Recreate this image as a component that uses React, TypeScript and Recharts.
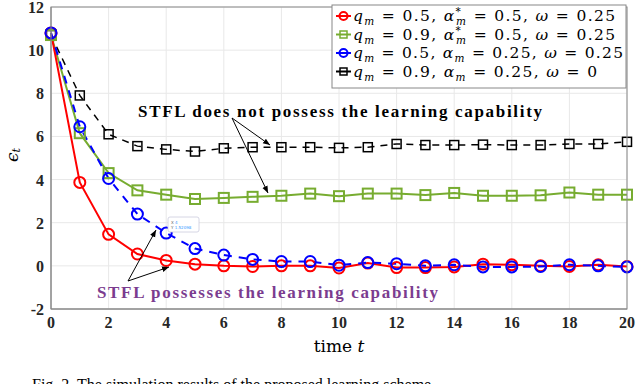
import { LineChart, Line, XAxis, YAxis, CartesianGrid } from "recharts"

const times = [0, 1, 2, 3, 4, 5, 6, 7, 8, 9, 10, 11, 12, 13, 14, 15, 16, 17, 18, 19, 20]
const redVals = [10.8, 3.87, 1.46, 0.55, 0.25, 0.08, 0.0, -0.03, 0.0, 0.0, -0.1, 0.13, -0.08, -0.08, -0.05, 0.08, 0.05, 0.0, -0.03, 0.05, -0.03]
const greenVals = [10.7, 6.15, 4.3, 3.5, 3.3, 3.1, 3.15, 3.2, 3.25, 3.35, 3.23, 3.35, 3.35, 3.28, 3.38, 3.25, 3.25, 3.27, 3.4, 3.3, 3.3]
const blueVals = [10.8, 6.45, 4.05, 2.4, 1.52, 0.8, 0.5, 0.3, 0.2, 0.2, 0.03, 0.15, 0.1, 0.0, 0.05, -0.05, -0.05, -0.03, 0.05, 0.0, -0.05]
const blackVals = [10.7, 7.9, 6.1, 5.55, 5.4, 5.3, 5.45, 5.5, 5.5, 5.5, 5.47, 5.5, 5.65, 5.6, 5.6, 5.62, 5.6, 5.6, 5.65, 5.65, 5.75]
const xTicks = [0, 2, 4, 6, 8, 10, 12, 14, 16, 18, 20]
const yTicks = [-2, 0, 2, 4, 6, 8, 10, 12]

const data = times.map((t, i) => ({
  t,
  red: redVals[i],
  green: greenVals[i],
  blue: blueVals[i],
  black: blackVals[i],
}))

const SERIF = "'Liberation Serif', 'DejaVu Serif', serif"
const MATH = "'DejaVu Serif', serif"

function Circle(color: string, r: number) {
  return (props: any) => {
    const { cx, cy, index } = props
    if (cx == null || cy == null) return <g key={index} />
    return <circle key={index} cx={cx} cy={cy} r={r} fill="none" stroke={color} strokeWidth={2} />
  }
}

function Square(color: string, s: number, w: number) {
  return (props: any) => {
    const { cx, cy, index } = props
    if (cx == null || cy == null) return <g key={index} />
    return <rect key={index} x={cx - s / 2} y={cy - s / 2} width={s} height={s} fill="none" stroke={color} strokeWidth={w} />
  }
}

function XTick(props: any) {
  const { x, y, payload } = props
  return (
    <text x={x} y={y + 11} textAnchor="middle" fontFamily={SERIF} fontWeight="bold" fontSize={16} fill="#262626">
      {payload.value}
    </text>
  )
}

function YTick(props: any) {
  const { x, y, payload } = props
  return (
    <text x={x + 1} y={y + 6} textAnchor="end" fontFamily={SERIF} fontWeight="bold" fontSize={16} fill="#262626">
      {payload.value}
    </text>
  )
}

function LegendRow({ y, color, shape, q, alpha, star, omega, len }: any) {
  return (
    <g>
      <line x1={336} x2={351} y1={y} y2={y} stroke={color} strokeWidth={2} />
      {shape === "circle" ? (
        <circle cx={343.5} cy={y} r={4} fill="none" stroke={color} strokeWidth={2} />
      ) : (
        <rect x={340} y={y - 3.5} width={7} height={7} fill="none" stroke={color} strokeWidth={1.5} />
      )}
      <text x={353} y={y + 5} fontFamily={MATH} fontSize={15.5} fill="#000" textLength={len} lengthAdjust="spacing">
        <tspan fontStyle="italic">q</tspan>
        <tspan fontStyle="italic" fontSize={10.5} dy={4}>m</tspan>
        <tspan dy={-4}>{` = ${q}, `}</tspan>
        <tspan fontStyle="italic">α</tspan>
        {star ? (
          <>
            <tspan fontSize={10.5} dy={-6}>*</tspan>
            <tspan fontStyle="italic" fontSize={10.5} dx={-6} dy={10}>m</tspan>
            <tspan dy={-4}>{` = ${alpha}, `}</tspan>
          </>
        ) : (
          <>
            <tspan fontStyle="italic" fontSize={10.5} dy={4}>m</tspan>
            <tspan dy={-4}>{` = ${alpha}, `}</tspan>
          </>
        )}
        <tspan fontStyle="italic">ω</tspan>
        <tspan>{` = ${omega}`}</tspan>
      </text>
    </g>
  )
}

export default function App() {
  return (
    <div style={{ position: "relative", width: 636, height: 384, overflow: "hidden", background: "#fff" }}>
      <style>{`body{margin:0}`}</style>
      <LineChart width={636} height={384} data={data} margin={{ top: 7, right: 9, left: 0, bottom: 35 }}>
        <CartesianGrid stroke="#e8e8e8" />
        <XAxis
          dataKey="t"
          type="number"
          domain={[0, 20]}
          ticks={xTicks}
          height={40}
          stroke="#888"
          tickLine={false}
          tick={<XTick />}
          interval={0}
        />
        <YAxis
          type="number"
          domain={[-2, 12]}
          ticks={yTicks}
          width={51}
          stroke="#888"
          tickLine={false}
          tickMargin={2}
          tick={<YTick />}
          interval={0}
        />
        <Line dataKey="black" stroke="#000" strokeWidth={1.5} strokeDasharray="7 6" dot={Square("#000", 9, 1.5)} isAnimationActive={false} />
        <Line dataKey="green" stroke="#77AC30" strokeWidth={2} dot={Square("#77AC30", 10, 2)} isAnimationActive={false} />
        <Line dataKey="red" stroke="#FF0000" strokeWidth={2} dot={Circle("#FF0000", 5.5)} isAnimationActive={false} />
        <Line dataKey="blue" stroke="#0000FF" strokeWidth={2} strokeDasharray="8 7" dot={Circle("#0000FF", 5.5)} isAnimationActive={false} />
      </LineChart>
      <svg width={636} height={384} style={{ position: "absolute", left: 0, top: 0, pointerEvents: "none" }}>
        <defs>
          <marker id="arr" viewBox="0 0 10 10" refX={10} refY={5} markerWidth={7} markerHeight={7} orient="auto">
            <path d="M0,1 L10,5 L0,9 Z" fill="#000" />
          </marker>
        </defs>
        <rect x={51} y={7} width={576} height={302} fill="none" stroke="#888" />
        <rect x={332} y={5} width={294} height={83} fill="#fff" stroke="#888" />
        <LegendRow y={16} color="#FF0000" shape="circle" q="0.5" alpha="0.5" star omega="0.25" len={262} />
        <LegendRow y={34.5} color="#77AC30" shape="square" q="0.9" alpha="0.5" star omega="0.25" len={262} />
        <LegendRow y={53} color="#0000FF" shape="circle" q="0.5" alpha="0.25" omega="0.25" len={270} />
        <LegendRow y={71.5} color="#000" shape="square" q="0.9" alpha="0.25" omega="0" len={244} />

        <text x={138} y={117} fontFamily={SERIF} fontWeight="bold" fontSize={17} fill="#000" textLength={404}>
          STFL does not possess the learning capability
        </text>
        <line x1={232} y1={118} x2={270} y2={145} stroke="#000" strokeWidth={1} markerEnd="url(#arr)" />
        <line x1={232} y1={118} x2={268} y2={193} stroke="#000" strokeWidth={1} markerEnd="url(#arr)" />

        <text x={97} y={298} fontFamily={SERIF} fontWeight="bold" fontSize={17} fill="#7B3C8F" textLength={341}>
          STFL possesses the learning capability
        </text>
        <line x1={128} y1={281} x2={156} y2={230} stroke="#000" strokeWidth={1} markerEnd="url(#arr)" />
        <line x1={128} y1={281} x2={169} y2={267} stroke="#000" strokeWidth={1} markerEnd="url(#arr)" />

        <rect x={168} y={217} width={31} height={15} rx={2} fill="#fff" stroke="#ccd" strokeWidth={0.8} />
        <text x={171} y={223.5} fontFamily="'DejaVu Sans', sans-serif" fontSize={4} fill="#555">
          X <tspan fill="#3399ff">4</tspan>
        </text>
        <text x={171} y={229} fontFamily="'DejaVu Sans', sans-serif" fontSize={4} fill="#555">
          Y <tspan fill="#3399ff">1.52098</tspan>
        </text>

        <text x={12} y={155} fontFamily={MATH} fontSize={17} fill="#000" transform="rotate(-90 12 155)" textAnchor="middle" dominantBaseline="central">
          <tspan fontStyle="italic">ϵ</tspan>
          <tspan fontStyle="italic" fontSize={11} dy={4}>t</tspan>
        </text>
        <text x={339} y={352} fontFamily={MATH} fontSize={17} fill="#000" textAnchor="middle">
          time <tspan fontStyle="italic">t</tspan>
        </text>
        <text x={32} y={390} fontFamily={SERIF} fontSize={16} fill="#000">
          Fig. 2.  The simulation results of the proposed learning scheme.
        </text>
      </svg>
    </div>
  )
}
